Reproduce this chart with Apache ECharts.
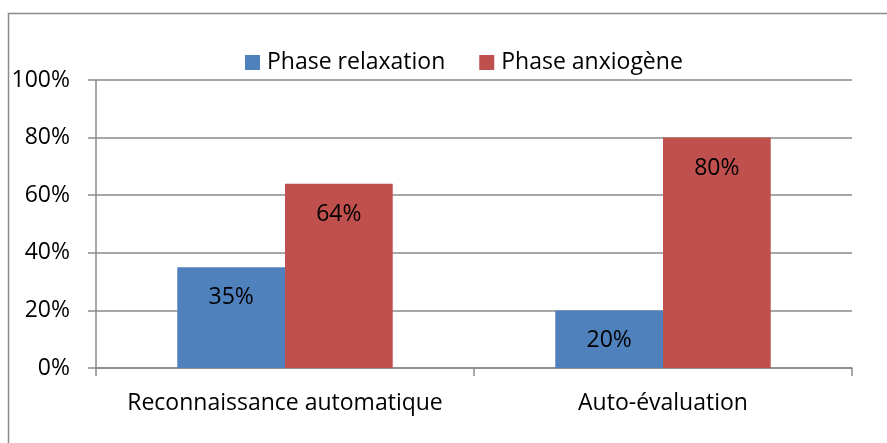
<!DOCTYPE html>
<html>
<head>
<meta charset="utf-8">
<script src="https://cdn.jsdelivr.net/npm/echarts@6/dist/echarts.min.js"></script>
<style>
  html, body { margin: 0; padding: 0; background: #fff; }
  #chart { width: 887px; height: 443px; }
</style>
</head>
<body>
<div id="chart"></div>
<script>
// Categories and percentages per phase
const categories = ['Reconnaissance automatique', 'Auto-évaluation'];
const relaxation = [35, 20];
const anxiogene = [64, 80];
const seriesNames = ['Phase relaxation', 'Phase anxiogène'];
const yTicks = [0, 20, 40, 60, 80, 100];

const FONT = '"Open Sans", Lato, sans-serif';
const FONT_SIZE = 23;
const AXIS_GRAY = '#8a8a8a';

const chart = echarts.init(document.getElementById('chart'), null, { renderer: 'canvas' });

const labelStyle = {
  show: true,
  position: 'insideTop',
  distance: 19,
  color: '#000',
  fontFamily: FONT,
  fontSize: FONT_SIZE,
  formatter: p => p.value + '%'
};

chart.setOption({
  animation: false,
  backgroundColor: '#fff',
  graphic: [{
    type: 'rect',
    shape: { x: 8.5, y: 13.5, width: 900, height: 460 },
    style: { fill: 'none', stroke: AXIS_GRAY, lineWidth: 1.5 },
    silent: true
  }],
  legend: {
    left: 240,
    top: 46,
    icon: 'rect',
    itemWidth: 15,
    itemHeight: 15,
    itemGap: 34,
    textStyle: { fontFamily: FONT, fontSize: FONT_SIZE, color: '#000', padding: [0, 0, 0, 2] },
    data: seriesNames
  },
  grid: { left: 96, right: 35, top: 80, bottom: 75 },
  xAxis: {
    type: 'category',
    data: categories,
    boundaryGap: true,
    axisLine: { show: true, lineStyle: { color: AXIS_GRAY, width: 1.5 } },
    axisTick: { show: true, length: 8, lineStyle: { color: AXIS_GRAY, width: 1.5 } },
    axisLabel: {
      interval: 0,
      hideOverlap: false,
      margin: 24,
      color: '#000',
      fontFamily: FONT,
      fontSize: FONT_SIZE
    },
    splitLine: { show: false }
  },
  yAxis: {
    type: 'value',
    min: yTicks[0],
    max: yTicks[yTicks.length - 1],
    interval: yTicks[1] - yTicks[0],
    axisLine: { show: true, lineStyle: { color: AXIS_GRAY, width: 1.5 } },
    axisTick: { show: true, length: 8, lineStyle: { color: AXIS_GRAY, width: 1.5 } },
    axisLabel: { margin: 26, color: '#000', fontFamily: FONT, fontSize: FONT_SIZE, formatter: v => v + '%' },
    splitLine: { show: true, lineStyle: { color: AXIS_GRAY, width: 1.5 } }
  },
  series: [
    {
      name: seriesNames[0],
      type: 'bar',
      data: relaxation,
      barGap: '0%',
      barCategoryGap: '43%',
      itemStyle: { color: '#4F81BD' },
      label: labelStyle
    },
    {
      name: seriesNames[1],
      type: 'bar',
      data: anxiogene,
      barGap: '0%',
      barCategoryGap: '43%',
      itemStyle: { color: '#C0504D' },
      label: labelStyle
    }
  ]
});
</script>
</body>
</html>
